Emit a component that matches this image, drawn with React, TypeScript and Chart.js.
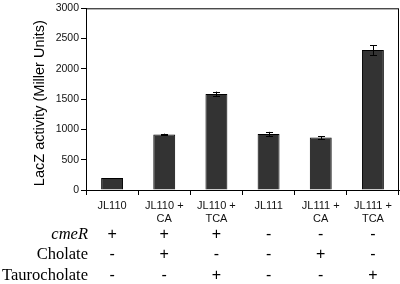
import React, { useEffect, useRef } from "react";
import { Chart, registerables } from "chart.js";

Chart.register(...registerables);

const categories: (string | string[])[] = [
  "JL110",
  ["JL110 +", "CA"],
  ["JL110 +", "TCA"],
  "JL111",
  ["JL111 +", "CA"],
  ["JL111 +", "TCA"],
];
const values = [200, 915, 1585, 925, 865, 2310];
const errors = [0, 15, 40, 35, 22, 80];
const rowLabels = ["cmeR", "Cholate", "Taurocholate"];
const cmeRSigns = ["+", "+", "+", "-", "-", "-"];
const cholateSigns = ["-", "+", "-", "-", "+", "-"];
const taurocholateSigns = ["-", "-", "+", "-", "-", "+"];
const yTitle = "LacZ activity (Miller Units)";

const extrasPlugin = {
  id: "extras",
  afterDatasetsDraw(chart: any) {
    const { ctx, chartArea } = chart;
    const x = chart.scales.x;
    const y = chart.scales.y;
    ctx.save();
    ctx.strokeStyle = "#000";
    ctx.lineWidth = 1;
    ctx.strokeRect(chartArea.left + 0.5, chartArea.top + 0.5, chartArea.right - chartArea.left - 1, chartArea.bottom - chartArea.top);
    const meta = chart.getDatasetMeta(0);
    meta.data.forEach((bar: any, i: number) => {
      const e = errors[i];
      if (!e) return;
      const cx = Math.round(bar.x) + 0.5;
      const yt = y.getPixelForValue(values[i] + e);
      const yb = y.getPixelForValue(values[i] - e);
      ctx.beginPath();
      ctx.moveTo(cx, yt);
      ctx.lineTo(cx, yb);
      ctx.moveTo(cx - 3.5, Math.round(yt) + 0.5);
      ctx.lineTo(cx + 3.5, Math.round(yt) + 0.5);
      ctx.moveTo(cx - 3.5, Math.round(yb) + 0.5);
      ctx.lineTo(cx + 3.5, Math.round(yb) + 0.5);
      ctx.stroke();
    });
    ctx.fillStyle = "#000";
    ctx.font = "14.5px 'Liberation Sans', Arial, sans-serif";
    ctx.textAlign = "center";
    ctx.textBaseline = "middle";
    ctx.translate(40, (chartArea.top + chartArea.bottom) / 2 + 4);
    ctx.rotate(-Math.PI / 2);
    ctx.fillText(yTitle, 0, 0);
    ctx.restore();
    ctx.save();
    ctx.fillStyle = "#000";
    const rows = [cmeRSigns, cholateSigns, taurocholateSigns];
    const rowY = [235, 255, 276];
    ctx.textBaseline = "middle";
    rows.forEach((signs, r) => {
      ctx.textAlign = "right";
      ctx.font = (r === 0 ? "italic " : "") + "16.5px 'Liberation Serif', 'Times New Roman', serif";
      ctx.fillText(rowLabels[r], 88, rowY[r]);
      ctx.textAlign = "center";
      ctx.font = "16px 'Liberation Sans', Arial, sans-serif";
      signs.forEach((s, i) => {
        ctx.fillText(s, x.getPixelForValue(i), rowY[r]);
      });
    });
    ctx.restore();
  },
};

export default function App() {
  const ref = useRef<HTMLCanvasElement>(null);
  useEffect(() => {
    if (!ref.current) return;
    const chart = new Chart(ref.current, {
      type: "bar",
      data: {
        labels: categories as any,
        datasets: [
          {
            data: values,
            backgroundColor: "#333333",
            borderColor: "#000",
            borderWidth: 1,
            barPercentage: 0.84,
            categoryPercentage: 0.5,
          },
        ],
      },
      options: {
        animation: false,
        responsive: false,
        maintainAspectRatio: false,
        layout: { padding: { left: 0, right: 1, top: 4, bottom: 0 } },
        plugins: { legend: { display: false }, tooltip: { enabled: false } },
        scales: {
          x: {
            grid: { drawOnChartArea: false, drawTicks: true, tickLength: 5, color: "#000", offset: true },
            border: { display: true, color: "#000" },
            ticks: {
              color: "#111",
              font: { family: "'Liberation Sans', Arial, sans-serif", size: 11 },
              maxRotation: 0,
              autoSkip: false,
              padding: 4,
            },
            afterFit: (s: any) => {
              s.height = 94;
            },
          },
          y: {
            min: 0,
            max: 3000,
            ticks: {
              stepSize: 500,
              color: "#111",
              font: { family: "'Liberation Sans', Arial, sans-serif", size: 10.5 },
              padding: 2,
              callback: (v: any) => String(v),
            },
            grid: { drawOnChartArea: false, drawTicks: true, tickLength: 5, color: "#000" },
            border: { display: true, color: "#000" },
            afterFit: (s: any) => {
              s.width = 86;
            },
          },
        },
      },
      plugins: [extrasPlugin],
    });
    return () => chart.destroy();
  }, []);
  return (
    <div style={{ position: "absolute", left: 0, top: 0, width: 400, height: 284, background: "#fff" }}>
      <canvas ref={ref} width={400} height={284} style={{ display: "block" }} />
    </div>
  );
}
